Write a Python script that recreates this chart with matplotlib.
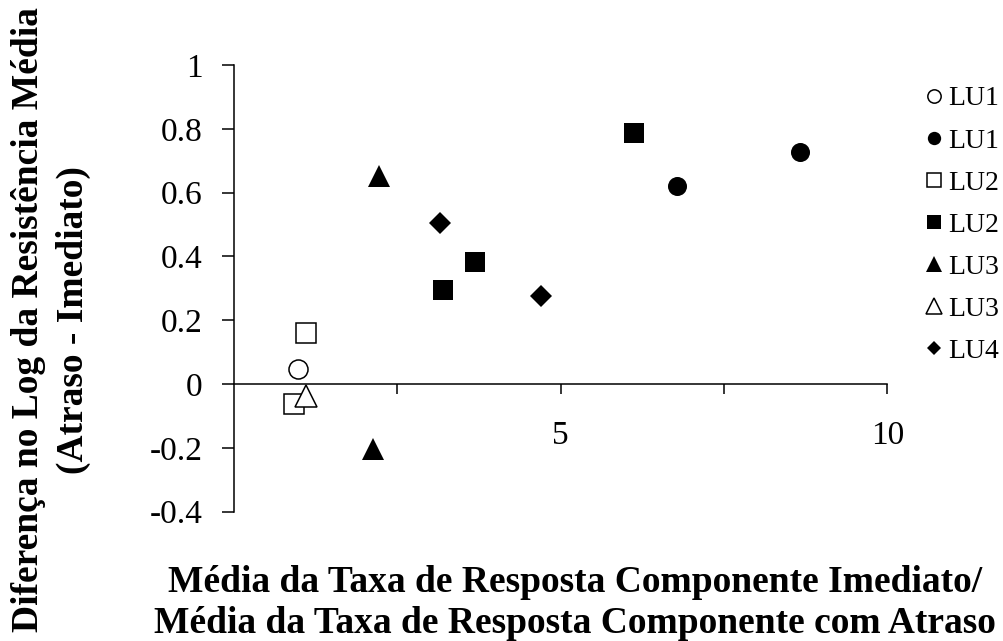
import matplotlib
matplotlib.use("Agg")
import matplotlib.pyplot as plt

plt.rcParams['font.family'] = ['Liberation Serif', 'DejaVu Serif']

# ---- data ----
lu1_open_x = [0.99]
lu1_open_y = [0.047]
lu1_fill_x = [6.78, 8.66]
lu1_fill_y = [0.62, 0.728]
lu2_open_x = [1.105, 0.92]
lu2_open_y = [0.159, -0.063]
lu2_fill_x = [3.20, 3.69, 6.12]
lu2_fill_y = [0.295, 0.383, 0.786]
lu3_fill_x = [2.22, 2.13]
lu3_fill_y = [0.652, -0.205]
lu3_open_x = [1.11]
lu3_open_y = [-0.038]
lu4_x = [3.15, 4.70]
lu4_y = [0.506, 0.276]

x_ticks = [2.5, 5, 7.5, 10]
x_tick_labels = ['', '5', '', '10']
y_ticks = [-0.4, -0.2, 0, 0.2, 0.4, 0.6, 0.8, 1]
y_tick_labels = ['-0.4', '-0.2', '0', '0.2', '0.4', '0.6', '0.8', '1']

xlabel = "Média da Taxa de Resposta Componente Imediato/\nMédia da Taxa de Resposta Componente com Atraso"
ylabel = "Diferença no Log da Resistência Média\n(Atraso - Imediato)"

W, H = 1004, 641
fig = plt.figure(figsize=(W / 100, H / 100), dpi=100)
ax = fig.add_axes([233.7 / W, 1 - 511.6 / H, (887.3 - 233.7) / W, (511.6 - 65) / H])

k = 'black'
ms_sq = 13.7
ms_o = 13.7
ms_tri = 16.5
ms_d = 10.7
elw = 1.1

ax.plot(lu1_open_x, lu1_open_y, 'o', ms=ms_o, mfc='white', mec=k, mew=elw, label='LU1', zorder=3)
ax.plot(lu1_fill_x, lu1_fill_y, 'o', ms=ms_o, mfc=k, mec=k, mew=0, label='LU1', zorder=3)
ax.plot(lu2_open_x, lu2_open_y, 's', ms=ms_sq, mfc='white', mec=k, mew=elw, label='LU2', zorder=3)
ax.plot(lu2_fill_x, lu2_fill_y, 's', ms=ms_sq, mfc=k, mec=k, mew=0, label='LU2', zorder=3)
ax.plot(lu3_fill_x, lu3_fill_y, '^', ms=ms_tri, mfc=k, mec=k, mew=0, label='LU3', zorder=3)
ax.plot(lu3_open_x, lu3_open_y, '^', ms=ms_tri, mfc='white', mec=k, mew=elw, label='LU3', zorder=4)
ax.plot(lu4_x, lu4_y, 'D', ms=ms_d, mfc=k, mec=k, mew=0, label='LU4', zorder=3)

ax.set_xlim(0, 10)
ax.set_ylim(-0.4, 1)
ax.spines['top'].set_visible(False)
ax.spines['right'].set_visible(False)
ax.spines['bottom'].set_position(('data', 0))
for s in ('left', 'bottom'):
    ax.spines[s].set_linewidth(1.1)
    ax.spines[s].set_color(k)

ax.set_xticks(x_ticks)
ax.set_xticklabels(x_tick_labels)
ax.set_yticks(y_ticks)
ax.set_yticklabels(y_tick_labels)
ax.tick_params(axis='x', direction='out', length=7.2, width=1.1, pad=19, labelsize=24)
ax.tick_params(axis='y', direction='out', length=8.6, width=1.1, pad=14, labelsize=24)

ax.set_xlabel(xlabel, fontsize=27, fontweight='bold', va='center', linespacing=1.2)
ax.xaxis.set_label_coords((575 - 233.7) / 653.6, (511.6 - 603) / 446.6)
ax.set_ylabel(ylabel, fontsize=27, fontweight='bold', va='center', linespacing=1.35)
ax.yaxis.set_label_coords((51 - 233.7) / 653.6, (511.6 - 320) / 446.6)

leg = ax.legend(loc='upper left', bbox_to_anchor=(927.5 / W, 1 - 86 / H),
                bbox_transform=fig.transFigure, frameon=False, fontsize=20,
                markerscale=0.7, handlelength=0.48, handletextpad=0.28,
                labelspacing=0.6, borderpad=0, borderaxespad=0, numpoints=1)

fig.savefig('out.png', dpi=100)
